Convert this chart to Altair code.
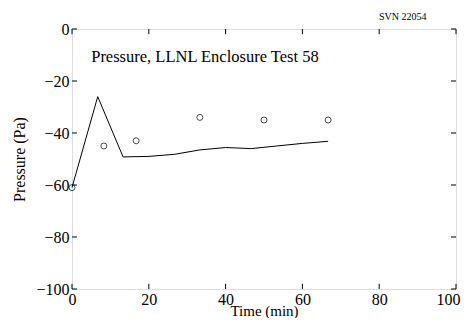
import altair as alt
import pandas as pd

# Model line (time in min, pressure in Pa)
line_t = [0, 6.7, 13.3, 20, 26.7, 33.3, 40, 46.7, 53.3, 60, 66.7]
line_p = [-61, -26, -49.2, -49, -48.2, -46.5, -45.6, -46, -45, -44, -43.2]

# Measured points
pt_t = [0, 8.3, 16.7, 33.3, 50, 66.7]
pt_p = [-61, -45, -43, -34, -35, -35]

x_ticks = [0, 20, 40, 60, 80, 100]
y_ticks = [0, -20, -40, -60, -80, -100]

FONT = "Liberation Serif"

line_df = pd.DataFrame({"t": line_t, "p": line_p})
pt_df = pd.DataFrame({"t": pt_t, "p": pt_p})

xs = alt.Scale(domain=[0, 100], nice=False, zero=False)
ys = alt.Scale(domain=[-100, 0], nice=False, zero=False)

xaxis = alt.Axis(values=x_ticks, ticks=False, grid=False, domain=False,
                 labelFont=FONT, labelFontSize=16, labelColor="black",
                 labelPadding=2, labelFlush=False,
                 labelOffset=alt.expr("datum.value == 100 ? -8 : 0"),
                 title="Time (min)", titleFont=FONT,
                 titleFontSize=15, titleFontWeight="normal", titleColor="black",
                 titleBaseline="alphabetic", titleY=26)
yaxis = alt.Axis(values=y_ticks, ticks=False, grid=False, domain=False,
                 labelFont=FONT, labelFontSize=16, labelColor="black",
                 labelPadding=3, title="Pressure (Pa)", titleFont=FONT,
                 titleFontSize=16, titleFontWeight="normal", titleColor="black",
                 titlePadding=8, labelFlush=False)

line = alt.Chart(line_df).mark_line(color="black", strokeWidth=1).encode(
    x=alt.X("t:Q", scale=xs, axis=xaxis),
    y=alt.Y("p:Q", scale=ys, axis=yaxis),
)
pts = alt.Chart(pt_df).mark_point(shape="circle", filled=False, color="black",
                                  size=36, strokeWidth=1).encode(
    x=alt.X("t:Q", scale=xs),
    y=alt.Y("p:Q", scale=ys),
)

# inward tick marks on all four sides
xt = pd.DataFrame({"v": x_ticks})
yt = pd.DataFrame({"v": y_ticks})
bot = alt.Chart(xt).mark_rule(color="black", strokeWidth=1).encode(
    x=alt.X("v:Q", scale=xs), y=alt.datum(-100), y2=alt.datum(-98))
top = alt.Chart(xt).mark_rule(color="black", strokeWidth=1).encode(
    x=alt.X("v:Q", scale=xs), y=alt.datum(0), y2=alt.datum(-2))
left = alt.Chart(yt).mark_rule(color="black", strokeWidth=1).encode(
    y=alt.Y("v:Q", scale=ys), x=alt.datum(0), x2=alt.datum(1.3))
right = alt.Chart(yt).mark_rule(color="black", strokeWidth=1).encode(
    y=alt.Y("v:Q", scale=ys), x=alt.datum(100), x2=alt.datum(98.7))

label = alt.Chart(pd.DataFrame({"t": [5], "p": [-10.8],
                                "s": ["Pressure, LLNL Enclosure Test 58"]})).mark_text(
    align="left", baseline="middle", font=FONT, fontSize=16.5, color="black").encode(
    x=alt.X("t:Q", scale=xs), y=alt.Y("p:Q", scale=ys), text="s:N")

svn = alt.Chart(pd.DataFrame({"s": ["SVN 22054"]})).mark_text(
    align="left", baseline="middle", font=FONT, fontSize=10, color="black").encode(
    x=alt.value(307), y=alt.value(-12), text="s:N")

chart = alt.layer(line, pts, bot, top, left, right, label, svn).properties(
    width=384, height=260,
    autosize=alt.AutoSizeParams(type="none"),
    padding={"left": 64, "top": 21, "right": 6, "bottom": 29},
).configure_view(stroke="black", strokeWidth=1.5).configure(background="white")

chart.save("out.html", embed_options={"renderer": "svg", "actions": False})
